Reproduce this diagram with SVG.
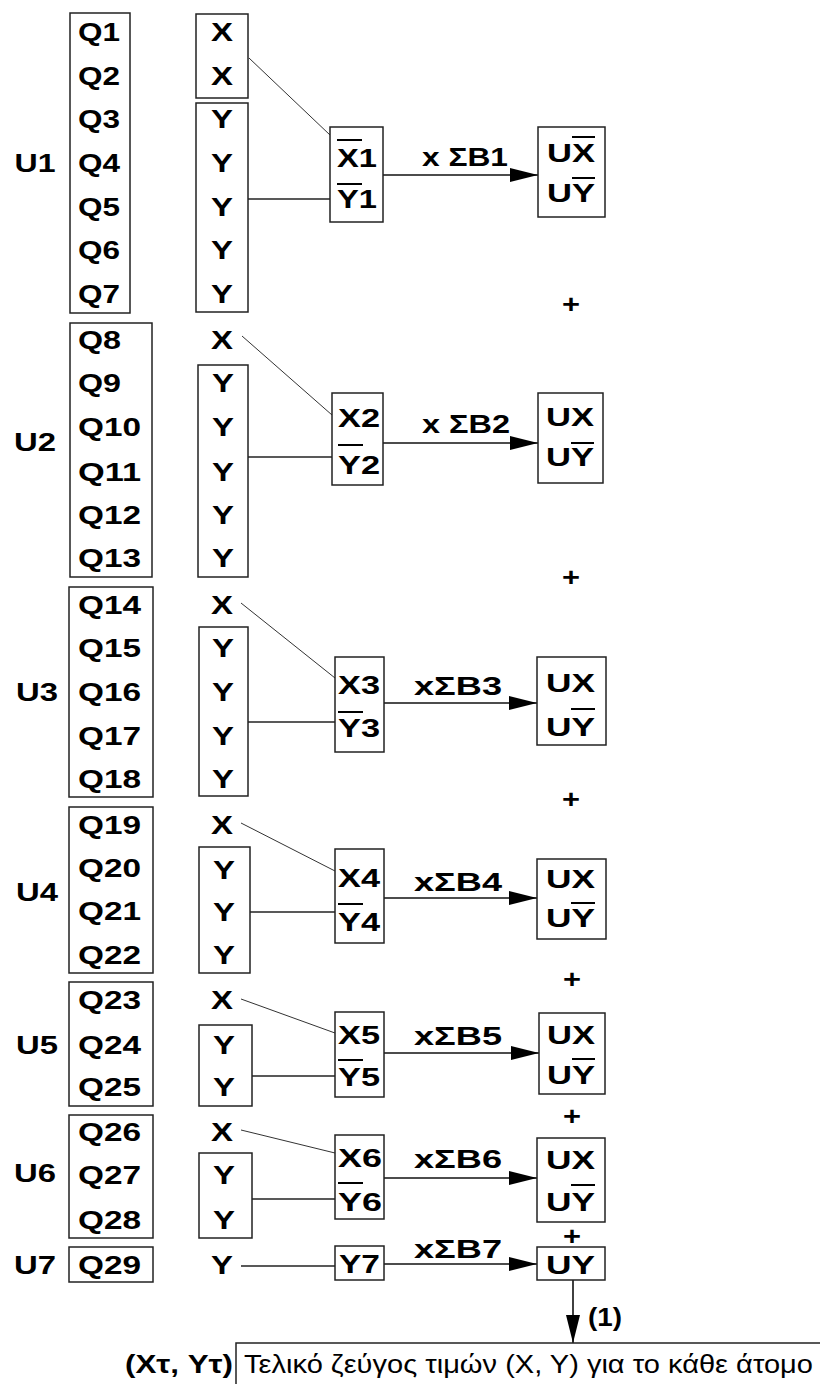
<svg xmlns="http://www.w3.org/2000/svg" width="820" height="1384" viewBox="0 0 820 1384">
<style>
.b{font-family:"Liberation Sans",Arial,sans-serif;font-weight:bold;font-size:25px;fill:#000}
.m{text-anchor:middle}
.r{font-family:"Liberation Sans",Arial,sans-serif;font-size:25px;fill:#000}
.box{fill:none;stroke:#222;stroke-width:1.5}
.ln{fill:none;stroke:#222;stroke-width:1.3}
.dg{fill:none;stroke:#333;stroke-width:1}
.ar{fill:none;stroke:#111;stroke-width:1.6;marker-end:url(#ah)}
.bar{stroke:#000;stroke-width:2}
</style>
<defs>
<marker id="ah" markerUnits="userSpaceOnUse" markerWidth="30" markerHeight="16" refX="28" refY="8" orient="auto">
<path d="M0,1 L28,8 L0,15 Z" fill="#000"/>
</marker>
</defs>
<rect width="820" height="1384" fill="#fff"/>

<g id="connectors">
<line class="dg" x1="249" y1="58" x2="330" y2="135"/>
<line class="ln" x1="248" y1="199" x2="330" y2="199"/>
<line class="ar" x1="383" y1="175" x2="538" y2="175"/>
<line class="dg" x1="242" y1="336" x2="332" y2="415"/>
<line class="ln" x1="248" y1="457" x2="332" y2="457"/>
<line class="ar" x1="383" y1="443" x2="538" y2="443"/>
<line class="dg" x1="241" y1="603" x2="335" y2="678"/>
<line class="ln" x1="248" y1="722" x2="335" y2="722"/>
<line class="ar" x1="384" y1="703" x2="537" y2="703"/>
<line class="dg" x1="241" y1="823" x2="335" y2="871"/>
<line class="ln" x1="250" y1="912" x2="335" y2="912"/>
<line class="ar" x1="384" y1="898" x2="537" y2="898"/>
<line class="dg" x1="241" y1="999" x2="335" y2="1033"/>
<line class="ln" x1="252" y1="1076" x2="335" y2="1076"/>
<line class="ar" x1="384" y1="1053" x2="539" y2="1053"/>
<line class="dg" x1="241" y1="1130" x2="335" y2="1153"/>
<line class="ln" x1="252" y1="1199" x2="335" y2="1199"/>
<line class="ar" x1="384" y1="1178" x2="537" y2="1178"/>
<line class="ln" x1="241" y1="1266" x2="335" y2="1266"/>
<line class="ar" x1="384" y1="1264" x2="537" y2="1264"/>
<line class="ar" x1="573" y1="1280" x2="573" y2="1343"/>
<text class="b" x="422" y="166" textLength="86" lengthAdjust="spacingAndGlyphs">x ΣB1</text>
<text class="b" x="422" y="433" textLength="88" lengthAdjust="spacingAndGlyphs">x ΣB2</text>
<text class="b" x="414" y="695" textLength="88" lengthAdjust="spacingAndGlyphs">xΣB3</text>
<text class="b" x="414" y="891" textLength="88" lengthAdjust="spacingAndGlyphs">xΣB4</text>
<text class="b" x="414" y="1045" textLength="88" lengthAdjust="spacingAndGlyphs">xΣB5</text>
<text class="b" x="414" y="1168" textLength="88" lengthAdjust="spacingAndGlyphs">xΣB6</text>
<text class="b" x="414" y="1258" textLength="88" lengthAdjust="spacingAndGlyphs">xΣB7</text>
<text class="b" x="588" y="1326" textLength="34" lengthAdjust="spacingAndGlyphs">(1)</text>
</g>

<g id="plus">
<text class="b m" x="571" y="313" textLength="18" lengthAdjust="spacingAndGlyphs">+</text>
<text class="b m" x="571" y="586" textLength="18" lengthAdjust="spacingAndGlyphs">+</text>
<text class="b m" x="571" y="808" textLength="18" lengthAdjust="spacingAndGlyphs">+</text>
<text class="b m" x="572" y="988" textLength="18" lengthAdjust="spacingAndGlyphs">+</text>
<text class="b m" x="572" y="1125" textLength="18" lengthAdjust="spacingAndGlyphs">+</text>
<text class="b m" x="572" y="1245" textLength="18" lengthAdjust="spacingAndGlyphs">+</text>
</g>

<!-- U1 -->
<g id="u1-q">
<text class="b m" x="35" y="172" textLength="41" lengthAdjust="spacingAndGlyphs">U1</text>
<rect class="box" x="70" y="13" width="60" height="300"/>
<text class="b" x="78" y="41" textLength="42" lengthAdjust="spacingAndGlyphs">Q1</text>
<text class="b" x="78" y="85" textLength="42" lengthAdjust="spacingAndGlyphs">Q2</text>
<text class="b" x="78" y="128" textLength="42" lengthAdjust="spacingAndGlyphs">Q3</text>
<text class="b" x="78" y="172" textLength="42" lengthAdjust="spacingAndGlyphs">Q4</text>
<text class="b" x="78" y="216" textLength="42" lengthAdjust="spacingAndGlyphs">Q5</text>
<text class="b" x="78" y="259" textLength="42" lengthAdjust="spacingAndGlyphs">Q6</text>
<text class="b" x="78" y="303" textLength="42" lengthAdjust="spacingAndGlyphs">Q7</text>
</g>
<g id="u1-x">
<rect class="box" x="196" y="14" width="52" height="84"/>
<text class="b m" x="222" y="41" textLength="22" lengthAdjust="spacingAndGlyphs">X</text>
<text class="b m" x="222" y="85" textLength="22" lengthAdjust="spacingAndGlyphs">X</text>
</g>
<g id="u1-y">
<rect class="box" x="196" y="103" width="52" height="209"/>
<text class="b m" x="222" y="128" textLength="22" lengthAdjust="spacingAndGlyphs">Y</text>
<text class="b m" x="222" y="172" textLength="22" lengthAdjust="spacingAndGlyphs">Y</text>
<text class="b m" x="222" y="216" textLength="22" lengthAdjust="spacingAndGlyphs">Y</text>
<text class="b m" x="222" y="259" textLength="22" lengthAdjust="spacingAndGlyphs">Y</text>
<text class="b m" x="222" y="303" textLength="22" lengthAdjust="spacingAndGlyphs">Y</text>
</g>
<g id="u1-mid">
<rect class="box" x="330" y="127" width="53" height="95"/>
<text class="b" x="337" y="167" textLength="40" lengthAdjust="spacingAndGlyphs">X1</text>
<text class="b" x="337" y="208" textLength="40" lengthAdjust="spacingAndGlyphs">Y1</text>
<line class="bar" x1="337" y1="140" x2="362" y2="140"/>
<line class="bar" x1="337" y1="184" x2="362" y2="184"/>
</g>
<g id="u1-ux">
<rect class="box" x="538" y="127" width="67" height="90"/>
<text class="b" x="547" y="162" textLength="48" lengthAdjust="spacingAndGlyphs">UX</text>
<text class="b" x="547" y="202" textLength="48" lengthAdjust="spacingAndGlyphs">UY</text>
<line class="bar" x1="572" y1="137" x2="595" y2="137"/>
<line class="bar" x1="572" y1="178" x2="595" y2="178"/>
</g>

<!-- U2 -->
<g id="u2-q">
<text class="b m" x="35" y="451" textLength="42" lengthAdjust="spacingAndGlyphs">U2</text>
<rect class="box" x="70" y="323" width="82" height="254"/>
<text class="b" x="78" y="349" textLength="43" lengthAdjust="spacingAndGlyphs">Q8</text>
<text class="b" x="78" y="392" textLength="43" lengthAdjust="spacingAndGlyphs">Q9</text>
<text class="b" x="78" y="436" textLength="63" lengthAdjust="spacingAndGlyphs">Q10</text>
<text class="b" x="78" y="481" textLength="63" lengthAdjust="spacingAndGlyphs">Q11</text>
<text class="b" x="78" y="524" textLength="63" lengthAdjust="spacingAndGlyphs">Q12</text>
<text class="b" x="78" y="567" textLength="63" lengthAdjust="spacingAndGlyphs">Q13</text>
</g>
<g id="u2-x"><text class="b m" x="222" y="349" textLength="22" lengthAdjust="spacingAndGlyphs">X</text></g>
<g id="u2-y">
<rect class="box" x="198" y="365" width="50" height="212"/>
<text class="b m" x="223" y="392" textLength="22" lengthAdjust="spacingAndGlyphs">Y</text>
<text class="b m" x="223" y="436" textLength="22" lengthAdjust="spacingAndGlyphs">Y</text>
<text class="b m" x="223" y="481" textLength="22" lengthAdjust="spacingAndGlyphs">Y</text>
<text class="b m" x="223" y="524" textLength="22" lengthAdjust="spacingAndGlyphs">Y</text>
<text class="b m" x="223" y="567" textLength="22" lengthAdjust="spacingAndGlyphs">Y</text>
</g>
<g id="u2-mid">
<rect class="box" x="332" y="393" width="51" height="92"/>
<text class="b" x="338" y="427" textLength="42" lengthAdjust="spacingAndGlyphs">X2</text>
<text class="b" x="338" y="474" textLength="42" lengthAdjust="spacingAndGlyphs">Y2</text>
<line class="bar" x1="338" y1="445" x2="363" y2="445"/>
</g>
<g id="u2-ux">
<rect class="box" x="538" y="393" width="65" height="90"/>
<text class="b" x="546" y="426" textLength="48" lengthAdjust="spacingAndGlyphs">UX</text>
<text class="b" x="546" y="466" textLength="48" lengthAdjust="spacingAndGlyphs">UY</text>
<line class="bar" x1="571" y1="443" x2="594" y2="443"/>
</g>

<!-- U3 -->
<g id="u3-q">
<text class="b m" x="37" y="701" textLength="42" lengthAdjust="spacingAndGlyphs">U3</text>
<rect class="box" x="69" y="587" width="84" height="210"/>
<text class="b" x="78" y="614" textLength="63" lengthAdjust="spacingAndGlyphs">Q14</text>
<text class="b" x="78" y="657" textLength="63" lengthAdjust="spacingAndGlyphs">Q15</text>
<text class="b" x="78" y="701" textLength="63" lengthAdjust="spacingAndGlyphs">Q16</text>
<text class="b" x="78" y="745" textLength="63" lengthAdjust="spacingAndGlyphs">Q17</text>
<text class="b" x="78" y="788" textLength="63" lengthAdjust="spacingAndGlyphs">Q18</text>
</g>
<g id="u3-x"><text class="b m" x="222" y="614" textLength="22" lengthAdjust="spacingAndGlyphs">X</text></g>
<g id="u3-y">
<rect class="box" x="199" y="627" width="49" height="169"/>
<text class="b m" x="223" y="657" textLength="22" lengthAdjust="spacingAndGlyphs">Y</text>
<text class="b m" x="223" y="701" textLength="22" lengthAdjust="spacingAndGlyphs">Y</text>
<text class="b m" x="223" y="745" textLength="22" lengthAdjust="spacingAndGlyphs">Y</text>
<text class="b m" x="223" y="788" textLength="22" lengthAdjust="spacingAndGlyphs">Y</text>
</g>
<g id="u3-mid">
<rect class="box" x="335" y="657" width="49" height="95"/>
<text class="b" x="338" y="694" textLength="42" lengthAdjust="spacingAndGlyphs">X3</text>
<text class="b" x="338" y="737" textLength="42" lengthAdjust="spacingAndGlyphs">Y3</text>
<line class="bar" x1="338" y1="712" x2="363" y2="712"/>
</g>
<g id="u3-ux">
<rect class="box" x="537" y="657" width="69" height="88"/>
<text class="b" x="546" y="692" textLength="49" lengthAdjust="spacingAndGlyphs">UX</text>
<text class="b" x="546" y="736" textLength="49" lengthAdjust="spacingAndGlyphs">UY</text>
<line class="bar" x1="571" y1="709" x2="595" y2="709"/>
</g>

<!-- U4 -->
<g id="u4-q">
<text class="b m" x="37" y="901" textLength="42" lengthAdjust="spacingAndGlyphs">U4</text>
<rect class="box" x="69" y="807" width="84" height="166"/>
<text class="b" x="78" y="834" textLength="63" lengthAdjust="spacingAndGlyphs">Q19</text>
<text class="b" x="78" y="877" textLength="63" lengthAdjust="spacingAndGlyphs">Q20</text>
<text class="b" x="78" y="920" textLength="63" lengthAdjust="spacingAndGlyphs">Q21</text>
<text class="b" x="78" y="964" textLength="63" lengthAdjust="spacingAndGlyphs">Q22</text>
</g>
<g id="u4-x"><text class="b m" x="222" y="834" textLength="22" lengthAdjust="spacingAndGlyphs">X</text></g>
<g id="u4-y">
<rect class="box" x="199" y="847" width="51" height="126"/>
<text class="b m" x="224" y="879" textLength="22" lengthAdjust="spacingAndGlyphs">Y</text>
<text class="b m" x="224" y="921" textLength="22" lengthAdjust="spacingAndGlyphs">Y</text>
<text class="b m" x="224" y="964" textLength="22" lengthAdjust="spacingAndGlyphs">Y</text>
</g>
<g id="u4-mid">
<rect class="box" x="335" y="849" width="49" height="94"/>
<text class="b" x="338" y="887" textLength="42" lengthAdjust="spacingAndGlyphs">X4</text>
<text class="b" x="338" y="931" textLength="42" lengthAdjust="spacingAndGlyphs">Y4</text>
<line class="bar" x1="338" y1="904" x2="363" y2="904"/>
</g>
<g id="u4-ux">
<rect class="box" x="537" y="859" width="69" height="80"/>
<text class="b" x="546" y="888" textLength="49" lengthAdjust="spacingAndGlyphs">UX</text>
<text class="b" x="546" y="927" textLength="49" lengthAdjust="spacingAndGlyphs">UY</text>
<line class="bar" x1="571" y1="903" x2="595" y2="903"/>
</g>

<!-- U5 -->
<g id="u5-q">
<text class="b m" x="37" y="1054" textLength="42" lengthAdjust="spacingAndGlyphs">U5</text>
<rect class="box" x="69" y="982" width="84" height="124"/>
<text class="b" x="78" y="1009" textLength="63" lengthAdjust="spacingAndGlyphs">Q23</text>
<text class="b" x="78" y="1054" textLength="63" lengthAdjust="spacingAndGlyphs">Q24</text>
<text class="b" x="78" y="1096" textLength="63" lengthAdjust="spacingAndGlyphs">Q25</text>
</g>
<g id="u5-x"><text class="b m" x="222" y="1009" textLength="22" lengthAdjust="spacingAndGlyphs">X</text></g>
<g id="u5-y">
<rect class="box" x="199" y="1025" width="53" height="81"/>
<text class="b m" x="224" y="1054" textLength="22" lengthAdjust="spacingAndGlyphs">Y</text>
<text class="b m" x="224" y="1096" textLength="22" lengthAdjust="spacingAndGlyphs">Y</text>
</g>
<g id="u5-mid">
<rect class="box" x="335" y="1012" width="49" height="85"/>
<text class="b" x="338" y="1044" textLength="42" lengthAdjust="spacingAndGlyphs">X5</text>
<text class="b" x="338" y="1086" textLength="42" lengthAdjust="spacingAndGlyphs">Y5</text>
<line class="bar" x1="338" y1="1060" x2="363" y2="1060"/>
</g>
<g id="u5-ux">
<rect class="box" x="539" y="1013" width="66" height="81"/>
<text class="b" x="547" y="1044" textLength="48" lengthAdjust="spacingAndGlyphs">UX</text>
<text class="b" x="547" y="1084" textLength="48" lengthAdjust="spacingAndGlyphs">UY</text>
<line class="bar" x1="572" y1="1059" x2="595" y2="1059"/>
</g>

<!-- U6 -->
<g id="u6-q">
<text class="b m" x="35" y="1182" textLength="42" lengthAdjust="spacingAndGlyphs">U6</text>
<rect class="box" x="69" y="1115" width="84" height="123"/>
<text class="b" x="78" y="1141" textLength="63" lengthAdjust="spacingAndGlyphs">Q26</text>
<text class="b" x="78" y="1184" textLength="63" lengthAdjust="spacingAndGlyphs">Q27</text>
<text class="b" x="78" y="1229" textLength="63" lengthAdjust="spacingAndGlyphs">Q28</text>
</g>
<g id="u6-x"><text class="b m" x="222" y="1141" textLength="22" lengthAdjust="spacingAndGlyphs">X</text></g>
<g id="u6-y">
<rect class="box" x="199" y="1153" width="53" height="85"/>
<text class="b m" x="224" y="1184" textLength="22" lengthAdjust="spacingAndGlyphs">Y</text>
<text class="b m" x="224" y="1229" textLength="22" lengthAdjust="spacingAndGlyphs">Y</text>
</g>
<g id="u6-mid">
<rect class="box" x="335" y="1135" width="49" height="84"/>
<text class="b" x="338" y="1167" textLength="44" lengthAdjust="spacingAndGlyphs">X6</text>
<text class="b" x="338" y="1211" textLength="44" lengthAdjust="spacingAndGlyphs">Y6</text>
<line class="bar" x1="338" y1="1183" x2="363" y2="1183"/>
</g>
<g id="u6-ux">
<rect class="box" x="537" y="1138" width="68" height="84"/>
<text class="b" x="546" y="1169" textLength="49" lengthAdjust="spacingAndGlyphs">UX</text>
<text class="b" x="546" y="1211" textLength="49" lengthAdjust="spacingAndGlyphs">UY</text>
<line class="bar" x1="571" y1="1185" x2="595" y2="1185"/>
</g>

<!-- U7 -->
<g id="u7-q">
<text class="b m" x="35" y="1274" textLength="42" lengthAdjust="spacingAndGlyphs">U7</text>
<rect class="box" x="69" y="1247" width="84" height="35"/>
<text class="b" x="78" y="1274" textLength="63" lengthAdjust="spacingAndGlyphs">Q29</text>
</g>
<g id="u7-y"><text class="b m" x="222" y="1274" textLength="22" lengthAdjust="spacingAndGlyphs">Y</text></g>
<g id="u7-mid">
<rect class="box" x="335" y="1246" width="49" height="34"/>
<text class="b" x="339" y="1273" textLength="41" lengthAdjust="spacingAndGlyphs">Y7</text>
</g>
<g id="u7-uy">
<rect class="box" x="537" y="1247" width="68" height="33"/>
<text class="b" x="546" y="1274" textLength="49" lengthAdjust="spacingAndGlyphs">UY</text>
</g>

<g id="result">
<text class="b" x="125" y="1373" textLength="108" lengthAdjust="spacingAndGlyphs">(Xτ, Yτ)</text>
<rect class="box" x="236" y="1343" width="600" height="70"/>
<text class="r" x="244" y="1373" textLength="569" lengthAdjust="spacingAndGlyphs">Τελικό ζεύγος τιμών (X, Y) για το κάθε άτομο</text>
</g>
</svg>
